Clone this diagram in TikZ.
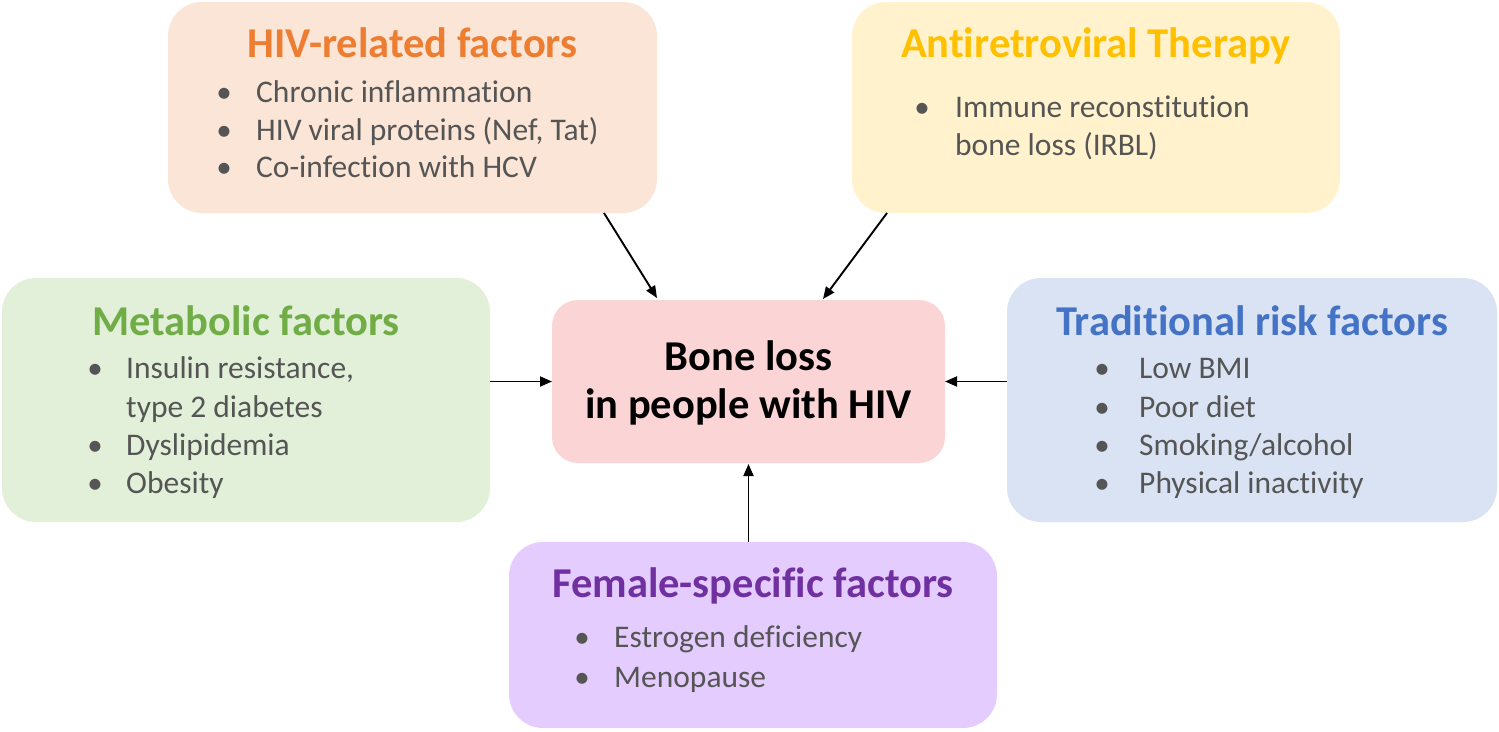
\documentclass[tikz,border=0pt]{standalone}
\usepackage{fontspec}
\setmainfont{Carlito}[Ligatures=NoCommon]
\usetikzlibrary{arrows.meta}
\definecolor{hivfill}{HTML}{FBE5D6}
\definecolor{hivtitle}{HTML}{ED7D31}
\definecolor{artfill}{HTML}{FFF2CC}
\definecolor{arttitle}{HTML}{FFC000}
\definecolor{metfill}{HTML}{E2F0D9}
\definecolor{mettitle}{HTML}{70AD47}
\definecolor{tradfill}{HTML}{DAE3F3}
\definecolor{tradtitle}{HTML}{4472C4}
\definecolor{femfill}{HTML}{E5CCFF}
\definecolor{femtitle}{HTML}{7030A0}
\definecolor{ctrfill}{HTML}{FBD5D5}
\definecolor{txtgray}{HTML}{555555}
\begin{document}
\begin{tikzpicture}[x=1pt,y=-1pt,
  panel/.style={rounded corners=34pt, inner sep=0pt, outer sep=0pt, draw=none},
  ttl/.style={anchor=base, inner sep=0pt, font=\fontsize{42.5}{48}\selectfont\bfseries},
  ctrtxt/.style={anchor=base, inner sep=0pt, text=black, font=\fontsize{42.5}{48}\selectfont\bfseries},
  bulletdot/.style={anchor=base, inner sep=0pt, text=txtgray, font=\fontsize{31}{38}\selectfont},
  item/.style={anchor=base west, inner sep=0pt, text=txtgray, font=\fontsize{31.5}{38}\selectfont},
  arr/.style={-{Triangle[length=12pt,width=10pt]}, line width=1.9pt, black}]
\useasboundingbox (0,0) rectangle (1499,731);

% panels
\node[panel, fill=hivfill, minimum width=489pt, minimum height=211pt] (hiv) at (412.5,107.5) {};
\node[panel, fill=artfill, minimum width=488pt, minimum height=211pt] (art) at (1096,107.5) {};
\node[panel, fill=metfill, minimum width=488pt, minimum height=244pt] (met) at (246,400) {};
\node[panel, fill=tradfill, minimum width=490pt, minimum height=244pt] (trad) at (1252,400) {};
\node[panel, fill=femfill, minimum width=488pt, minimum height=186pt] (fem) at (753,635) {};
\node[panel, rounded corners=26pt, fill=ctrfill, minimum width=393pt, minimum height=163pt] (ctr) at (748.5,381.5) {};

% centre text
\node[ctrtxt] (c1) at (748.5,370) {Bone loss};
\node[ctrtxt] (c2) at (748.5,418) {in people with HIV};

% HIV-related
\node[ttl, text=hivtitle] (hivt) at (412.5,57) {HIV-related factors};
\node[bulletdot] (hivb1) at (224,102) {•};
\node[item] (hivi1) at (256,102) {Chronic inflammation};
\node[bulletdot] (hivb2) at (224,140) {•};
\node[item] (hivi2) at (256,140) {HIV viral proteins (Nef, Tat)};
\node[bulletdot] (hivb3) at (224,177) {•};
\node[item] (hivi3) at (256,177) {Co-infection with HCV};

% ART
\node[ttl, text=arttitle] (artt) at (1096,57) {Antiretroviral Therapy};
\node[bulletdot] (artb1) at (922,117) {•};
\node[item] (arti1) at (955,117) {Immune reconstitution};
\node[item] (arti2) at (955,155) {bone loss (IRBL)};

% Metabolic
\node[ttl, text=mettitle] (mett) at (246,335) {Metabolic factors};
\node[bulletdot] (metb1) at (95,378) {•};
\node[item] (meti1) at (126,378) {Insulin resistance,};
\node[item] (meti2) at (126,417) {type 2 diabetes};
\node[bulletdot] (metb3) at (95,455) {•};
\node[item] (meti3) at (126,455) {Dyslipidemia};
\node[bulletdot] (metb4) at (95,493) {•};
\node[item] (meti4) at (126,493) {Obesity};

% Traditional
\node[ttl, text=tradtitle] (tradt) at (1252,335) {Traditional risk factors};
\node[bulletdot] (tradb1) at (1102,378) {•};
\node[item] (tradi1) at (1139,378) {Low BMI};
\node[bulletdot] (tradb2) at (1102,417) {•};
\node[item] (tradi2) at (1139,417) {Poor diet};
\node[bulletdot] (tradb3) at (1102,455) {•};
\node[item] (tradi3) at (1139,455) {Smoking/alcohol};
\node[bulletdot] (tradb4) at (1102,493) {•};
\node[item] (tradi4) at (1139,493) {Physical inactivity};

% Female
\node[ttl, text=femtitle] (femt) at (753,597) {Female-specific factors};
\node[bulletdot] (femb1) at (582,647) {•};
\node[item] (femi1) at (614,647) {Estrogen deficiency};
\node[bulletdot] (femb2) at (582,687) {•};
\node[item] (femi2) at (614,687) {Menopause};

% arrows
\draw[arr] ([xshift=191.5pt]hiv.south) -- ([xshift=-91.5pt,yshift=2pt]ctr.north);
\draw[arr] ([xshift=-209pt]art.south) -- ([xshift=74.5pt,yshift=1pt]ctr.north);
\draw[arr] (met.east |- ctr.west) -- (ctr.west);
\draw[arr] (trad.west |- ctr.east) -- (ctr.east);
\draw[arr] (fem.north -| ctr.south) -- ([yshift=-1pt]ctr.south);
\end{tikzpicture}
\end{document}
